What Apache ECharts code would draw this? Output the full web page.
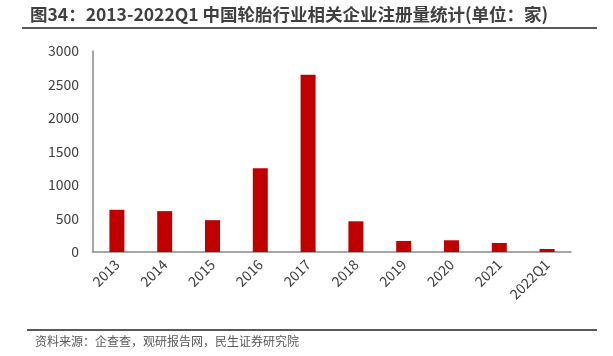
<!DOCTYPE html>
<html><head><meta charset="utf-8">
<script src="https://cdn.jsdelivr.net/npm/echarts@6/dist/echarts.min.js"></script>
<style>html,body{margin:0;padding:0;background:#fff}#c{width:613px;height:356px}</style>
</head><body><div id="c"></div>
<script>
var categories = ['2013','2014','2015','2016','2017','2018','2019','2020','2021','2022Q1'];
var values = [630, 610, 475, 1250, 2645, 458, 165, 175, 135, 45];
var yTicks = [0, 500, 1000, 1500, 2000, 2500, 3000];
var titleText = '图34：2013-2022Q1 中国轮胎行业相关企业注册量统计(单位：家)';
var sourceText = '资料来源：企查查，观研报告网，民生证券研究院';

var chart = echarts.init(document.getElementById('c'));
var font = '"Noto Sans CJK SC", "Noto Sans", sans-serif';
chart.setOption({
  animation: false,
  backgroundColor: '#fff',
  grid: {left: 93, right: 42, top: 51, bottom: 104},
  xAxis: {
    type: 'category', data: categories,
    axisLine: {lineStyle: {color: '#898989', width: 1.5}},
    axisTick: {show: false},
    axisLabel: {rotate: 45, color: '#404040', fontSize: 14, fontFamily: font, margin: 10}
  },
  yAxis: {
    type: 'value', min: yTicks[0], max: yTicks[yTicks.length-1], interval: 500,
    axisLine: {show: true, lineStyle: {color: '#898989', width: 1.5}},
    axisTick: {show: false},
    splitLine: {show: false},
    axisLabel: {color: '#404040', fontSize: 14, fontFamily: font, margin: 14,
      formatter: function (v) { return String(v); }}
  },
  series: [{
    type: 'bar', data: values, barWidth: 15,
    itemStyle: {color: '#c00000'}
  }],
  graphic: [
    {type: 'text', left: 30, top: 6, style: {text: titleText, font: 'bold 17.5px ' + font, fill: '#404040'}},
    {type: 'line', shape: {x1: 22, y1: 28, x2: 597, y2: 28}, style: {stroke: '#595959', lineWidth: 2}},
    {type: 'line', shape: {x1: 27, y1: 330, x2: 597, y2: 330}, style: {stroke: '#595959', lineWidth: 2}},
    {type: 'text', left: 35, top: 335, style: {text: sourceText, font: '12px ' + font, fill: '#595959'}}
  ]
});
</script></body></html>
